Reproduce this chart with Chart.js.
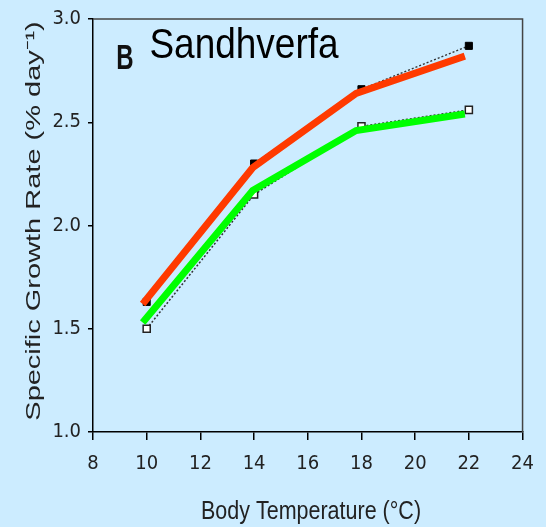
<!DOCTYPE html>
<html>
<head>
<meta charset="utf-8">
<title>Sandhverfa</title>
<script src="https://cdn.jsdelivr.net/npm/chart.js@4.4.1/dist/chart.umd.min.js"></script>
<style>
  html, body { margin: 0; padding: 0; background: #ccecff; }
  #wrap { width: 546px; height: 527px; }
</style>
</head>
<body>
<div id="wrap"><canvas id="growthChart" width="546" height="527"></canvas></div>
<script>
// DATA
const temps = [10, 14, 18, 22];
const measuredHigh = [1.63, 2.30, 2.66, 2.87]; // filled squares
const measuredLow = [1.50, 2.15, 2.48, 2.56];  // open squares
const lineTemps = [9.85, 13.95, 17.8, 21.85];
const fitRed = [1.62, 2.28, 2.64, 2.82];
const fitGreen = [1.53, 2.17, 2.46, 2.54];
const xTicks = [8, 10, 12, 14, 16, 18, 20, 22, 24];
const yTicks = [1.0, 1.5, 2.0, 2.5, 3.0];

const panelLabel = "B";
const panelTitle = "Sandhverfa";
const xTitle = "Body Temperature (°C)";
const yTitle = "Specific Growth Rate (% day⁻¹)";

const tickFont = { family: "'Liberation Sans Narrow', 'DejaVu Sans Condensed', 'Liberation Sans', sans-serif", size: 20 };

const pts = (xs, ys) => xs.map((x, i) => ({ x, y: ys[i] }));

// stretched text, the reference is squashed a bit
function drawText(ctx, text, x, y, font, sx, sy, rot) {
  ctx.save();
  ctx.translate(x, y);
  if (rot) ctx.rotate(rot);
  ctx.scale(sx, sy);
  ctx.font = font;
  ctx.textAlign = "center";
  ctx.textBaseline = "middle";
  ctx.fillText(text, 0, 0);
  ctx.restore();
}

const decorPlugin = {
  id: "decor",
  beforeDraw(chart) {
    const { ctx, width, height } = chart;
    ctx.save();
    ctx.fillStyle = "#ccecff";
    ctx.fillRect(0, 0, width, height);
    ctx.restore();
  },
  afterDraw(chart) {
    const { ctx, chartArea: a } = chart;
    ctx.save();
    // box top + right
    ctx.strokeStyle = "#444";
    ctx.lineWidth = 1.5;
    ctx.beginPath();
    ctx.moveTo(a.left, a.top);
    ctx.lineTo(a.right, a.top);
    ctx.lineTo(a.right, a.bottom);
    ctx.stroke();

    ctx.fillStyle = "#111";
    drawText(ctx, panelLabel, 125, 59, "bold 24px 'Liberation Sans'", 1, 1.45, 0);
    ctx.fillStyle = "#000";
    drawText(ctx, panelTitle, 244, 46, "37px 'Liberation Sans'", 1, 1.13, 0);

    ctx.fillStyle = "#222";
    drawText(ctx, yTitle, 34, 221, "21px 'Liberation Sans'", 1.38, 1, -Math.PI / 2);
    drawText(ctx, xTitle, 311, 512, "21.5px 'Liberation Sans'", 1, 1.23, 0);
    ctx.restore();
  }
};

new Chart(document.getElementById("growthChart"), {
  type: "line",
  data: {
    datasets: [
      {
        label: "red",
        data: pts(lineTemps, fitRed),
        borderColor: "#ff3a00",
        borderWidth: 7,
        pointRadius: 0,
        tension: 0
      },
      {
        label: "green",
        data: pts(lineTemps, fitGreen),
        borderColor: "#00ff00",
        borderWidth: 7,
        pointRadius: 0,
        tension: 0
      },
      {
        label: "filled",
        data: pts(temps, measuredHigh),
        borderColor: "#333",
        borderWidth: 1.5,
        borderDash: [2, 2],
        pointStyle: "rect",
        pointRadius: 5,
        pointBackgroundColor: "#000",
        pointBorderColor: "#000",
        pointBorderWidth: 1,
        tension: 0
      },
      {
        label: "open",
        data: pts(temps, measuredLow),
        borderColor: "#333",
        borderWidth: 1.5,
        borderDash: [2, 2],
        pointStyle: "rect",
        pointRadius: 5,
        pointBackgroundColor: "#ffffff",
        pointBorderColor: "#222",
        pointBorderWidth: 1.5,
        tension: 0
      }
    ]
  },
  options: {
    responsive: false,
    animation: false,
    layout: { padding: { top: 17, right: 18, left: 0, bottom: 0 } },
    plugins: {
      legend: { display: false },
      tooltip: { enabled: false }
    },
    scales: {
      x: {
        type: "linear",
        min: 8,
        max: 24,
        afterBuildTicks: (s) => { s.ticks = xTicks.map(v => ({ value: v })); },
        afterFit: (s) => { s.height = 95; },
        border: { display: true, color: "#000", width: 1.5 },
        grid: { drawOnChartArea: false, drawTicks: true, tickLength: 8, color: "#000", lineWidth: 1.5 },
        ticks: { color: "#222", font: tickFont, padding: 12, maxRotation: 0 }
      },
      y: {
        min: 1,
        max: 3,
        afterBuildTicks: (s) => { s.ticks = yTicks.map(v => ({ value: v })); },
        afterFit: (s) => { s.width = 93; },
        border: { display: true, color: "#000", width: 1.5 },
        grid: { drawOnChartArea: false, drawTicks: true, tickLength: 5, color: "#000", lineWidth: 1.5 },
        ticks: { color: "#222", font: tickFont, padding: 7, callback: (v) => v.toFixed(1) }
      }
    }
  },
  plugins: [decorPlugin]
});
</script>
</body>
</html>
